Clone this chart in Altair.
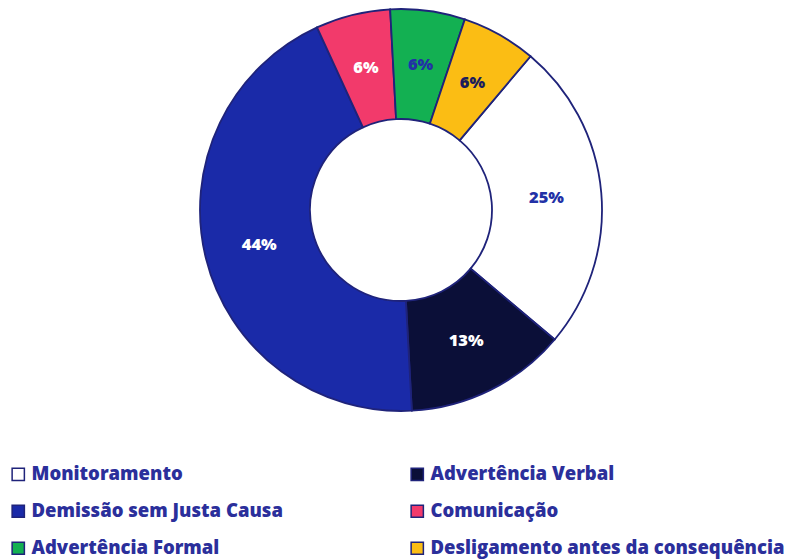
import altair as alt
import pandas as pd

categories = ["Monitoramento", "Advertência Verbal", "Demissão sem Justa Causa",
              "Comunicação", "Advertência Formal", "Desligamento antes da consequência"]
values = [25, 13, 44, 6, 6, 6]
labels = ["25%", "13%", "44%", "6%", "6%", "6%"]

fill_colors = ["#ffffff", "#0b0f38", "#1a2aa8", "#f23a6b", "#13b052", "#fbbd14"]
label_colors = ["#2231a6", "#ffffff", "#ffffff", "#ffffff", "#2231a6", "#1c1d5c"]

# legend reading order (two columns, filled column by column)
legend_order = ["Monitoramento", "Demissão sem Justa Causa", "Advertência Formal",
                "Advertência Verbal", "Comunicação", "Desligamento antes da consequência"]
fill_map = dict(zip(categories, fill_colors))
label_map = dict(zip(categories, label_colors))

df = pd.DataFrame({
    "category": categories,
    "value": values,
    "label": labels,
    "idx": list(range(len(categories))),
})

start = 0.70
theta_scale = alt.Scale(range=[start, start + 6.283185307])
cx, cy = 393, 202
FONT = "Open Sans"

base = alt.Chart(df).encode(
    theta=alt.Theta("value:Q", stack=True, scale=theta_scale),
    order=alt.Order("idx:Q"),
    x=alt.value(cx),
    y=alt.value(cy),
)

arcs = base.mark_arc(outerRadius=201, innerRadius=91, stroke="#1f237a", strokeWidth=1.8).encode(
    color=alt.Color(
        "category:N",
        scale=alt.Scale(domain=legend_order, range=[fill_map[c] for c in legend_order]),
        sort=legend_order,
        legend=alt.Legend(
            title=None, orient="none", legendX=1, legendY=457, columns=2,
            columnPadding=125, rowPadding=18, symbolType="square", symbolSize=150,
            symbolStrokeColor="#1f237a", symbolStrokeWidth=1.5,
            labelFont=FONT, labelFontSize=18.5, labelFontWeight=800,
            labelColor="#2b2f9b", labelOffset=4, labelLimit=400,
        ),
    )
)

texts = base.mark_text(radius=146, font=FONT, fontSize=16.5, fontWeight=800).encode(
    text="label:N",
    color=alt.Color("category:N",
                    scale=alt.Scale(domain=categories, range=[label_map[c] for c in categories]),
                    legend=None),
)

chart = alt.layer(arcs, texts).resolve_scale(color="independent").properties(
    width=787, height=552, padding=0, autosize=alt.AutoSizeParams(type="none")
).configure_view(stroke=None)

chart.save("out.html", embed_options={"renderer": "svg", "actions": False})
